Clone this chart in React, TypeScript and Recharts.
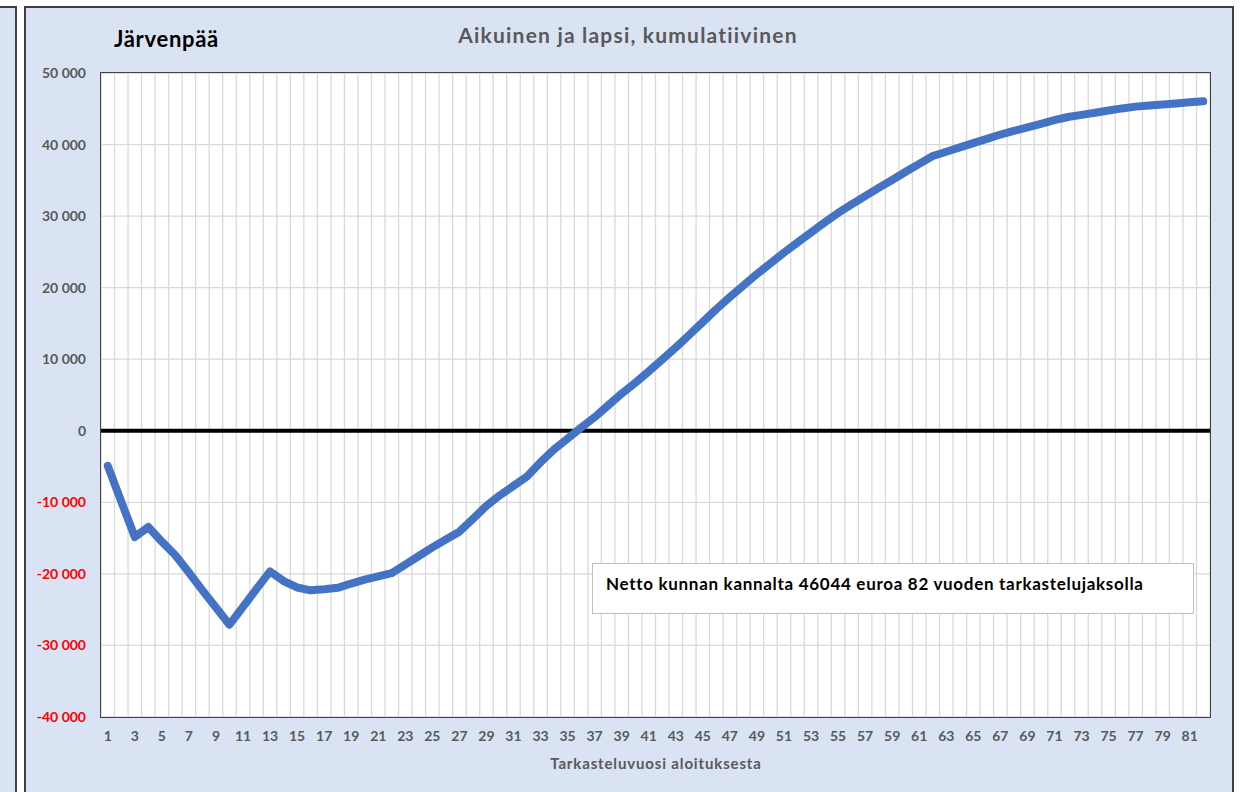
import { CartesianGrid, Line, LineChart, ReferenceLine, XAxis, YAxis } from "recharts"

const years = [
  1, 2, 3, 4, 5, 6, 7, 8, 9, 10, 11, 12, 13, 14, 15, 16, 17, 18, 19, 20, 21, 22, 23, 24, 25, 26, 27, 28, 29, 30,
  31, 32, 33, 34, 35, 36, 37, 38, 39, 40, 41, 42, 43, 44, 45, 46, 47, 48, 49, 50, 51, 52, 53, 54, 55, 56, 57, 58,
  59, 60, 61, 62, 63, 64, 65, 66, 67, 68, 69, 70, 71, 72, 73, 74, 75, 76, 77, 78, 79, 80, 81, 82,
]

// kumulatiivinen netto (euroa)
const netValues = [
  -4900, -9900, -14850, -13450, -15500, -17400, -19800, -22300, -24700, -27100,
  -24600, -22100, -19650, -21000, -21900, -22300, -22150, -21950, -21350, -20800,
  -20350, -19900, -18700, -17500, -16300, -15200, -14100, -12300, -10500, -9000,
  -7700, -6400, -4400, -2600, -1100, 450, 1900, 3550, 5200, 6700,
  8300, 9950, 11650, 13400, 15200, 17000, 18700, 20300, 21900, 23400,
  24900, 26300, 27700, 29100, 30450, 31650, 32800, 33950, 35050, 36200,
  37300, 38400, 39000, 39600, 40200, 40800, 41400, 41900, 42400, 42900,
  43400, 43850, 44150, 44450, 44750, 45050, 45300, 45450, 45600, 45750,
  45900, 46044,
]

const yTicks = [-40000, -30000, -20000, -10000, 0, 10000, 20000, 30000, 40000, 50000]

const FONT = "Lato, 'Open Sans', sans-serif"
const PANEL = "#dae3f3"
const EDGE = "#404040"

const data = years.map((year, i) => ({ year, net: netValues[i] }))

function formatThousands(v: number): string {
  const s = Math.abs(v).toString().replace(/\B(?=(\d{3})+(?!\d))/g, " ")
  return v < 0 ? `-${s}` : s
}

function YTick(props: any) {
  const { x, y, payload } = props
  const v = Number(payload.value)
  return (
    <text
      x={x}
      y={y}
      dy={5}
      textAnchor="end"
      fill={v < 0 ? "#ff0000" : "#595959"}
      fontSize={14}
      fontWeight={700}
      fontFamily={FONT}
    >
      {formatThousands(v)}
    </text>
  )
}

export default function App() {
  return (
    <div
      style={{
        position: "absolute",
        left: 0,
        top: 0,
        width: 1240,
        height: 792,
        overflow: "hidden",
        background: "#ffffff",
        fontFamily: FONT,
      }}
    >
      {/* naapurikaavion reuna vasemmalla */}
      <div
        style={{
          position: "absolute",
          left: 0,
          top: 6,
          width: 15,
          height: 800,
          background: PANEL,
          borderRight: `2px solid ${EDGE}`,
          borderTop: `2px solid ${EDGE}`,
        }}
      />
      <div
        style={{
          position: "absolute",
          left: 24,
          top: 6,
          width: 1206,
          height: 800,
          background: PANEL,
          border: `2px solid ${EDGE}`,
        }}
      />

      <div
        style={{
          position: "absolute",
          left: 114,
          top: 25,
          fontSize: 22,
          letterSpacing: 0.7,
          fontWeight: 700,
          color: "#000",
          whiteSpace: "nowrap",
        }}
      >
        Järvenpää
      </div>
      <div
        style={{
          position: "absolute",
          left: 328,
          width: 600,
          top: 22,
          textAlign: "center",
          fontSize: 21,
          letterSpacing: 1.2,
          fontWeight: 700,
          color: "#595959",
          whiteSpace: "nowrap",
        }}
      >
        Aikuinen ja lapsi, kumulatiivinen
      </div>

      <div style={{ position: "absolute", left: 0, top: 0 }}>
        <LineChart
          width={1240}
          height={792}
          data={data}
          margin={{ top: 73, right: 30, left: 0, bottom: 45 }}
        >
          <CartesianGrid
            fill="#ffffff"
            stroke="#d9d9d9"
            strokeWidth={1.3}
            verticalCoordinatesGenerator={({ offset }: any) =>
              [...years, 0].map((_, i) => offset.left + (i * offset.width) / years.length)
            }
          />
          <XAxis
            dataKey="year"
            scale="band"
            interval={1}
            height={30}
            tickSize={0}
            tickMargin={14}
            axisLine={false}
            tick={{ fill: "#595959", fontSize: 14, fontWeight: 700, fontFamily: FONT }}
          />
          <YAxis
            domain={[-40000, 50000]}
            ticks={yTicks}
            width={101}
            tickSize={0}
            tickMargin={15}
            axisLine={false}
            tick={<YTick />}
          />
          <ReferenceLine y={0} stroke="#000000" strokeWidth={4} />
          <Line
            type="linear"
            dataKey="net"
            stroke="#4472c4"
            strokeWidth={8}
            strokeLinecap="round"
            strokeLinejoin="round"
            dot={false}
            activeDot={false}
            isAnimationActive={false}
          />
        </LineChart>
      </div>

      {/* piirtoalueen kehys */}
      <div
        style={{
          position: "absolute",
          left: 100,
          top: 72,
          width: 1109,
          height: 644,
          border: `1.5px solid ${EDGE}`,
          pointerEvents: "none",
        }}
      />

      <div
        style={{
          position: "absolute",
          left: 592,
          top: 563,
          width: 600,
          height: 49,
          background: "#ffffff",
          border: "1px solid #bfbfbf",
        }}
      >
        <div
          style={{
            position: "absolute",
            left: 13,
            top: 9,
            fontSize: 17,
            letterSpacing: 0.7,
            fontWeight: 700,
            color: "#000",
            whiteSpace: "nowrap",
          }}
        >
          Netto kunnan kannalta 46044 euroa 82 vuoden tarkastelujaksolla
        </div>
      </div>

      <div
        style={{
          position: "absolute",
          left: 356,
          width: 600,
          top: 754,
          textAlign: "center",
          fontSize: 15,
          letterSpacing: 0.85,
          fontWeight: 700,
          color: "#595959",
          whiteSpace: "nowrap",
        }}
      >
        Tarkasteluvuosi aloituksesta
      </div>
    </div>
  )
}
